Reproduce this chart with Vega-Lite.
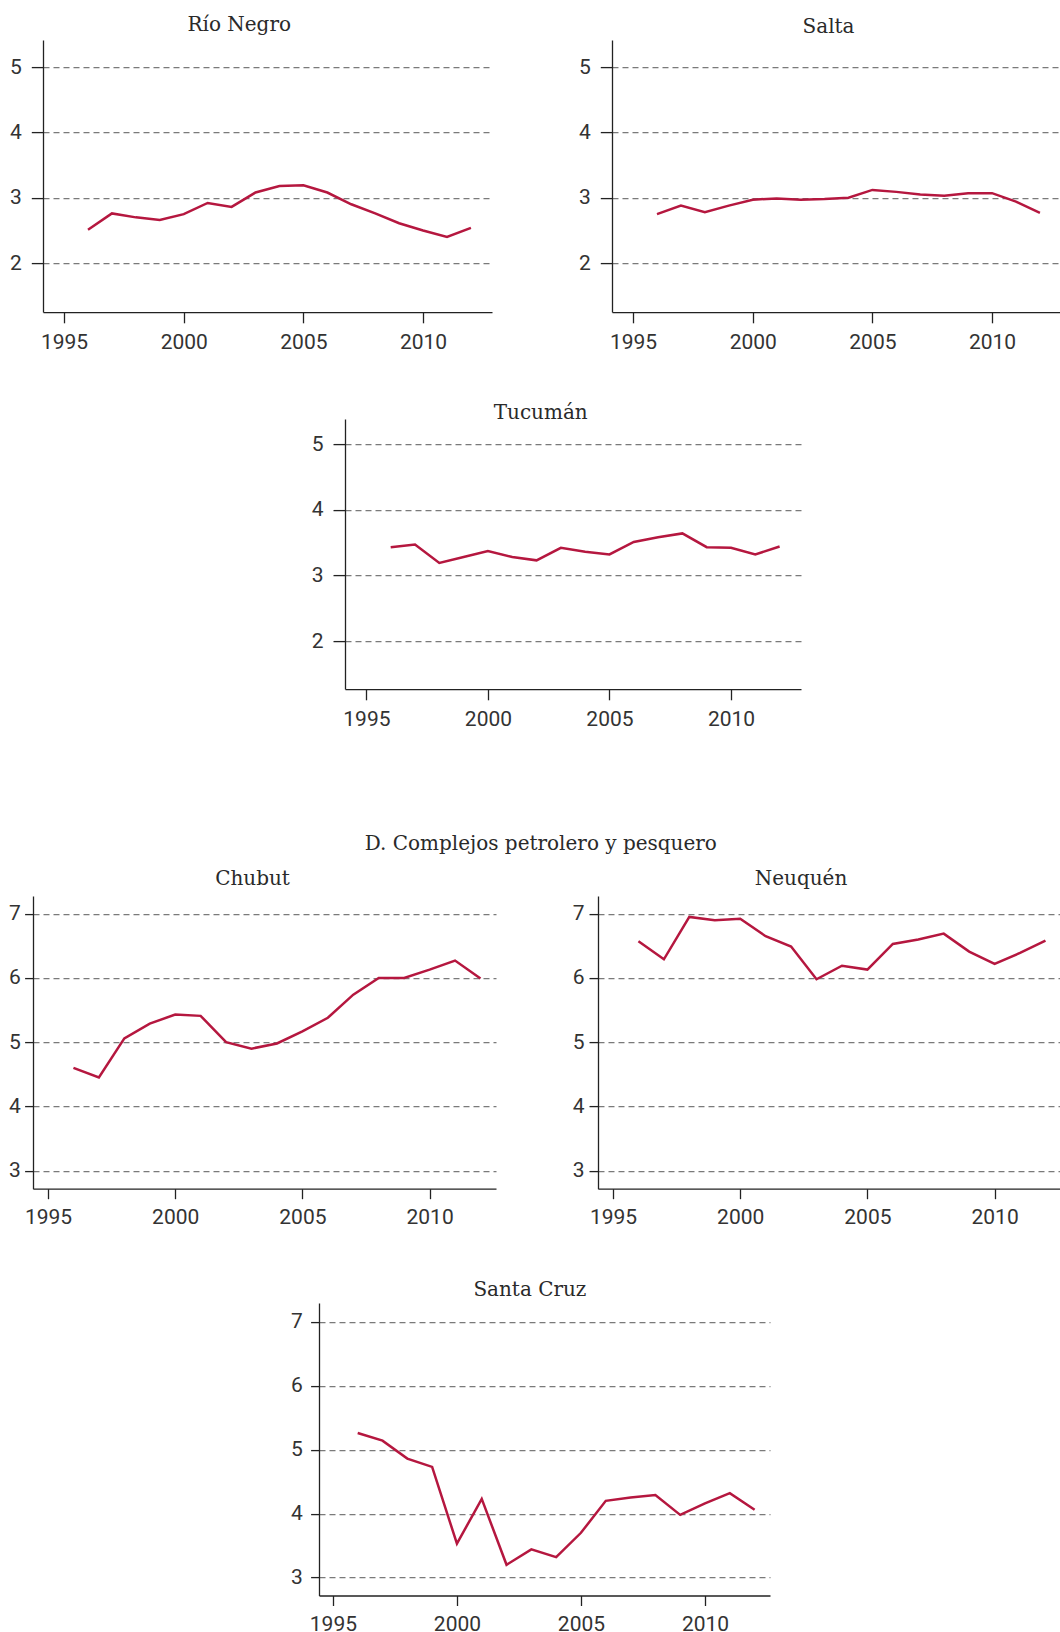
{
  "$schema": "https://vega.github.io/schema/vega-lite/v6.json",
  "padding": {"left": 0, "top": 14.1, "right": 0, "bottom": 0},
  "background": "#ffffff",
  "config": {
    "view": {"stroke": null},
    "title": {"font": "DejaVu Serif", "fontSize": 20, "fontWeight": "normal", "color": "#2a2a2a", "baseline": "alphabetic", "anchor": "middle", "frame": "group"},
    "axis": {
      "title": null,
      "labelFont": "Liberation Sans Narrow, Arial Narrow, Roboto, sans-serif",
      "labelFontSize": 21,
      "labelColor": "#333333",
      "domainColor": "#222222",
      "domainWidth": 1.3,
      "tickColor": "#222222",
      "tickWidth": 1.3,
      "gridColor": "#7a7a7a",
      "gridDash": [6, 4],
      "gridWidth": 1.1
    },
    "line": {"color": "#b5173f", "strokeWidth": 2.5, "clip": true}
  },
  "datasets": {
    "series": [
      {"provincia": "Río Negro", "anio": 1996, "valor": 2.51},
      {"provincia": "Río Negro", "anio": 1997, "valor": 2.76},
      {"provincia": "Río Negro", "anio": 1998, "valor": 2.70},
      {"provincia": "Río Negro", "anio": 1999, "valor": 2.66},
      {"provincia": "Río Negro", "anio": 2000, "valor": 2.75},
      {"provincia": "Río Negro", "anio": 2001, "valor": 2.92},
      {"provincia": "Río Negro", "anio": 2002, "valor": 2.86},
      {"provincia": "Río Negro", "anio": 2003, "valor": 3.08},
      {"provincia": "Río Negro", "anio": 2004, "valor": 3.18},
      {"provincia": "Río Negro", "anio": 2005, "valor": 3.19},
      {"provincia": "Río Negro", "anio": 2006, "valor": 3.08},
      {"provincia": "Río Negro", "anio": 2007, "valor": 2.90},
      {"provincia": "Río Negro", "anio": 2008, "valor": 2.76},
      {"provincia": "Río Negro", "anio": 2009, "valor": 2.61},
      {"provincia": "Río Negro", "anio": 2010, "valor": 2.50},
      {"provincia": "Río Negro", "anio": 2011, "valor": 2.40},
      {"provincia": "Río Negro", "anio": 2012, "valor": 2.54},
      {"provincia": "Salta", "anio": 1996, "valor": 2.75},
      {"provincia": "Salta", "anio": 1997, "valor": 2.88},
      {"provincia": "Salta", "anio": 1998, "valor": 2.78},
      {"provincia": "Salta", "anio": 1999, "valor": 2.88},
      {"provincia": "Salta", "anio": 2000, "valor": 2.97},
      {"provincia": "Salta", "anio": 2001, "valor": 2.99},
      {"provincia": "Salta", "anio": 2002, "valor": 2.97},
      {"provincia": "Salta", "anio": 2003, "valor": 2.98},
      {"provincia": "Salta", "anio": 2004, "valor": 3.00},
      {"provincia": "Salta", "anio": 2005, "valor": 3.12},
      {"provincia": "Salta", "anio": 2006, "valor": 3.09},
      {"provincia": "Salta", "anio": 2007, "valor": 3.05},
      {"provincia": "Salta", "anio": 2008, "valor": 3.03},
      {"provincia": "Salta", "anio": 2009, "valor": 3.07},
      {"provincia": "Salta", "anio": 2010, "valor": 3.07},
      {"provincia": "Salta", "anio": 2011, "valor": 2.94},
      {"provincia": "Salta", "anio": 2012, "valor": 2.77},
      {"provincia": "Tucumán", "anio": 1996, "valor": 3.43},
      {"provincia": "Tucumán", "anio": 1997, "valor": 3.47},
      {"provincia": "Tucumán", "anio": 1998, "valor": 3.19},
      {"provincia": "Tucumán", "anio": 1999, "valor": 3.28},
      {"provincia": "Tucumán", "anio": 2000, "valor": 3.37},
      {"provincia": "Tucumán", "anio": 2001, "valor": 3.28},
      {"provincia": "Tucumán", "anio": 2002, "valor": 3.23},
      {"provincia": "Tucumán", "anio": 2003, "valor": 3.42},
      {"provincia": "Tucumán", "anio": 2004, "valor": 3.36},
      {"provincia": "Tucumán", "anio": 2005, "valor": 3.32},
      {"provincia": "Tucumán", "anio": 2006, "valor": 3.51},
      {"provincia": "Tucumán", "anio": 2007, "valor": 3.58},
      {"provincia": "Tucumán", "anio": 2008, "valor": 3.64},
      {"provincia": "Tucumán", "anio": 2009, "valor": 3.43},
      {"provincia": "Tucumán", "anio": 2010, "valor": 3.42},
      {"provincia": "Tucumán", "anio": 2011, "valor": 3.32},
      {"provincia": "Tucumán", "anio": 2012, "valor": 3.44},
      {"provincia": "Chubut", "anio": 1996, "valor": 4.60},
      {"provincia": "Chubut", "anio": 1997, "valor": 4.45},
      {"provincia": "Chubut", "anio": 1998, "valor": 5.06},
      {"provincia": "Chubut", "anio": 1999, "valor": 5.29},
      {"provincia": "Chubut", "anio": 2000, "valor": 5.43},
      {"provincia": "Chubut", "anio": 2001, "valor": 5.41},
      {"provincia": "Chubut", "anio": 2002, "valor": 5.00},
      {"provincia": "Chubut", "anio": 2003, "valor": 4.90},
      {"provincia": "Chubut", "anio": 2004, "valor": 4.98},
      {"provincia": "Chubut", "anio": 2005, "valor": 5.17},
      {"provincia": "Chubut", "anio": 2006, "valor": 5.38},
      {"provincia": "Chubut", "anio": 2007, "valor": 5.74},
      {"provincia": "Chubut", "anio": 2008, "valor": 6.00},
      {"provincia": "Chubut", "anio": 2009, "valor": 6.00},
      {"provincia": "Chubut", "anio": 2010, "valor": 6.13},
      {"provincia": "Chubut", "anio": 2011, "valor": 6.27},
      {"provincia": "Chubut", "anio": 2012, "valor": 5.99},
      {"provincia": "Neuquén", "anio": 1996, "valor": 6.57},
      {"provincia": "Neuquén", "anio": 1997, "valor": 6.29},
      {"provincia": "Neuquén", "anio": 1998, "valor": 6.95},
      {"provincia": "Neuquén", "anio": 1999, "valor": 6.90},
      {"provincia": "Neuquén", "anio": 2000, "valor": 6.92},
      {"provincia": "Neuquén", "anio": 2001, "valor": 6.65},
      {"provincia": "Neuquén", "anio": 2002, "valor": 6.49},
      {"provincia": "Neuquén", "anio": 2003, "valor": 5.98},
      {"provincia": "Neuquén", "anio": 2004, "valor": 6.19},
      {"provincia": "Neuquén", "anio": 2005, "valor": 6.13},
      {"provincia": "Neuquén", "anio": 2006, "valor": 6.53},
      {"provincia": "Neuquén", "anio": 2007, "valor": 6.60},
      {"provincia": "Neuquén", "anio": 2008, "valor": 6.69},
      {"provincia": "Neuquén", "anio": 2009, "valor": 6.41},
      {"provincia": "Neuquén", "anio": 2010, "valor": 6.22},
      {"provincia": "Neuquén", "anio": 2011, "valor": 6.39},
      {"provincia": "Neuquén", "anio": 2012, "valor": 6.58},
      {"provincia": "Santa Cruz", "anio": 1996, "valor": 5.26},
      {"provincia": "Santa Cruz", "anio": 1997, "valor": 5.14},
      {"provincia": "Santa Cruz", "anio": 1998, "valor": 4.86},
      {"provincia": "Santa Cruz", "anio": 1999, "valor": 4.73},
      {"provincia": "Santa Cruz", "anio": 2000, "valor": 3.53},
      {"provincia": "Santa Cruz", "anio": 2001, "valor": 4.23},
      {"provincia": "Santa Cruz", "anio": 2002, "valor": 3.20},
      {"provincia": "Santa Cruz", "anio": 2003, "valor": 3.44},
      {"provincia": "Santa Cruz", "anio": 2004, "valor": 3.32},
      {"provincia": "Santa Cruz", "anio": 2005, "valor": 3.70},
      {"provincia": "Santa Cruz", "anio": 2006, "valor": 4.20},
      {"provincia": "Santa Cruz", "anio": 2007, "valor": 4.25},
      {"provincia": "Santa Cruz", "anio": 2008, "valor": 4.29},
      {"provincia": "Santa Cruz", "anio": 2009, "valor": 3.98},
      {"provincia": "Santa Cruz", "anio": 2010, "valor": 4.16},
      {"provincia": "Santa Cruz", "anio": 2011, "valor": 4.32},
      {"provincia": "Santa Cruz", "anio": 2012, "valor": 4.06}
    ],
    "vacio": []
  },
  "spacing": 0,
  "vconcat": [
    {
      "bounds": "flush",
      "spacing": 0,
      "hconcat": [
        {"width": 42.5, "height": 361.8, "data": {"name": "vacio"}, "mark": "point", "encoding": {}},
        {
          "width": 449, "height": 272,
          "title": {"text": "Río Negro", "dx": -28.3, "offset": 5.2},
          "data": {"name": "series"},
          "transform": [{"filter": "datum.provincia === 'Río Negro'"}],
          "mark": "line",
          "encoding": {
            "x": {"field": "anio", "type": "quantitative", "scale": {"domain": [1994.12, 2012.88], "nice": false, "zero": false},
                  "axis": {"values": [1995, 2000, 2005, 2010], "format": "d", "grid": false, "tickSize": 10.7, "labelPadding": 9}},
            "y": {"field": "valor", "type": "quantitative", "scale": {"domain": [1.25, 5.413], "nice": false, "zero": false},
                  "axis": {"values": [2, 3, 4, 5], "grid": true, "tickSize": 11.7, "labelPadding": 10}}
          }
        },
        {"width": 119.5, "height": 10, "data": {"name": "vacio"}, "mark": "point", "encoding": {}},
        {
          "width": 449, "height": 272,
          "title": {"text": "Salta", "dx": -8, "offset": 3},
          "data": {"name": "series"},
          "transform": [{"filter": "datum.provincia === 'Salta'"}],
          "mark": "line",
          "encoding": {
            "x": {"field": "anio", "type": "quantitative", "scale": {"domain": [1994.12, 2012.88], "nice": false, "zero": false},
                  "axis": {"values": [1995, 2000, 2005, 2010], "format": "d", "grid": false, "tickSize": 10.7, "labelPadding": 9}},
            "y": {"field": "valor", "type": "quantitative", "scale": {"domain": [1.25, 5.413], "nice": false, "zero": false},
                  "axis": {"values": [2, 3, 4, 5], "grid": true, "tickSize": 11.7, "labelPadding": 10}}
          }
        }
      ]
    },
    {
      "bounds": "flush",
      "spacing": 0,
      "hconcat": [
        {"width": 344.3, "height": 414.4, "data": {"name": "vacio"}, "mark": "point", "encoding": {}},
        {
          "width": 456, "height": 270,
          "title": {"text": "Tucumán", "dx": -32.3, "offset": -3.5},
          "data": {"name": "series"},
          "transform": [{"filter": "datum.provincia === 'Tucumán'"}],
          "mark": "line",
          "encoding": {
            "x": {"field": "anio", "type": "quantitative", "scale": {"domain": [1994.12, 2012.88], "nice": false, "zero": false},
                  "axis": {"values": [1995, 2000, 2005, 2010], "format": "d", "grid": false, "tickSize": 10.7, "labelPadding": 9}},
            "y": {"field": "valor", "type": "quantitative", "scale": {"domain": [1.27, 5.38], "nice": false, "zero": false},
                  "axis": {"values": [2, 3, 4, 5], "grid": true, "tickSize": 12, "labelPadding": 10}}
          }
        }
      ]
    },
    {
      "width": 1060, "height": 14.3,
      "title": {"text": "D. Complejos petrolero y pesquero", "dx": 10.8, "offset": 0},
      "data": {"name": "vacio"}, "mark": "point", "encoding": {}
    },
    {
      "bounds": "flush",
      "spacing": 0,
      "hconcat": [
        {"width": 32.7, "height": 383, "data": {"name": "vacio"}, "mark": "point", "encoding": {}},
        {
          "width": 463, "height": 292.6,
          "title": {"text": "Chubut", "dx": -12, "offset": 6.7},
          "data": {"name": "series"},
          "transform": [{"filter": "datum.provincia === 'Chubut'"}],
          "mark": "line",
          "encoding": {
            "x": {"field": "anio", "type": "quantitative", "scale": {"domain": [1994.41, 2012.61], "nice": false, "zero": false},
                  "axis": {"values": [1995, 2000, 2005, 2010], "format": "d", "grid": false, "tickSize": 10, "labelPadding": 8}},
            "y": {"field": "valor", "type": "quantitative", "scale": {"domain": [2.72, 7.274], "nice": false, "zero": false},
                  "axis": {"values": [3, 4, 5, 6, 7], "grid": true, "tickSize": 8.4, "labelPadding": 4.3}}
          }
        },
        {"width": 101.6, "height": 10, "data": {"name": "vacio"}, "mark": "point", "encoding": {}},
        {
          "width": 463, "height": 292.6,
          "title": {"text": "Neuquén", "dx": -28.5, "offset": 6.7},
          "data": {"name": "series"},
          "transform": [{"filter": "datum.provincia === 'Neuquén'"}],
          "mark": "line",
          "encoding": {
            "x": {"field": "anio", "type": "quantitative", "scale": {"domain": [1994.41, 2012.61], "nice": false, "zero": false},
                  "axis": {"values": [1995, 2000, 2005, 2010], "format": "d", "grid": false, "tickSize": 10, "labelPadding": 8}},
            "y": {"field": "valor", "type": "quantitative", "scale": {"domain": [2.72, 7.274], "nice": false, "zero": false},
                  "axis": {"values": [3, 4, 5, 6, 7], "grid": true, "tickSize": 9, "labelPadding": 5}}
          }
        }
      ]
    },
    {
      "bounds": "flush",
      "spacing": 0,
      "hconcat": [
        {"width": 318.7, "height": 300, "data": {"name": "vacio"}, "mark": "point", "encoding": {}},
        {
          "width": 451, "height": 292.4,
          "title": {"text": "Santa Cruz", "dx": -14.6, "offset": 3.3},
          "data": {"name": "series"},
          "transform": [{"filter": "datum.provincia === 'Santa Cruz'"}],
          "mark": "line",
          "encoding": {
            "x": {"field": "anio", "type": "quantitative", "scale": {"domain": [1994.44, 2012.62], "nice": false, "zero": false},
                  "axis": {"values": [1995, 2000, 2005, 2010], "format": "d", "grid": false, "tickSize": 10, "labelPadding": 8}},
            "y": {"field": "valor", "type": "quantitative", "scale": {"domain": [2.72, 7.29], "nice": false, "zero": false},
                  "axis": {"values": [3, 4, 5, 6, 7], "grid": true, "tickSize": 8.4, "labelPadding": 8.4}}
          }
        }
      ]
    }
  ]
}
